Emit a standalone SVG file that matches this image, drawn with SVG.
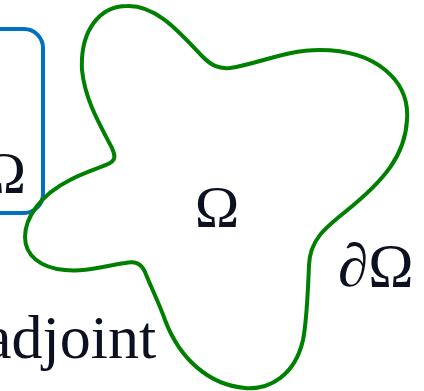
<svg xmlns="http://www.w3.org/2000/svg" width="424" height="391" viewBox="0 0 424 391">
<style>
.t{font-family:"Liberation Serif","Times New Roman",serif;fill:#0d1020;}
.box{fill:none;stroke:#0070C0;stroke-width:4;}
.dom{fill:none;stroke:#008000;stroke-width:4;stroke-linejoin:round;}
</style>
<rect width="424" height="391" fill="#ffffff"/>
<g id="box">
<rect class="box" x="-80" y="29" width="123" height="184" rx="19" ry="19"/>
<text class="t" x="26" y="193" font-size="60" text-anchor="end">Ω</text>
</g>
<g id="domain">
<path class="dom" d="M127,6 C157,5 180,33 203,57 C211,65 218,69 230,68 C258,64 285,50 320,50 C375,50 410,80 407,120 C405,155 385,180 345,212 C325,228 310,240 309,265 C308,290 307,320 303,340 C295,375 270,390 245,388 C210,385 180,360 165,320 C160,305 150,285 145,272 C141,263 135,261 125,263 C100,267 85,272 65,270 C40,268 25,255 25,237 C25,218 40,195 70,180 C85,172 100,168 110,163 C116,160 115,155 112,148 C100,125 85,100 82,70 C80,30 100,6 127,6 Z"/>
<text class="t" x="217" y="227" font-size="60" text-anchor="middle">Ω</text>
<text class="t" x="338" y="286" font-size="61"><tspan font-style="italic">∂</tspan>Ω</text>
</g>
<g id="label">
<text class="t" x="-16" y="358" font-size="62">adjoint</text>
</g>
</svg>
